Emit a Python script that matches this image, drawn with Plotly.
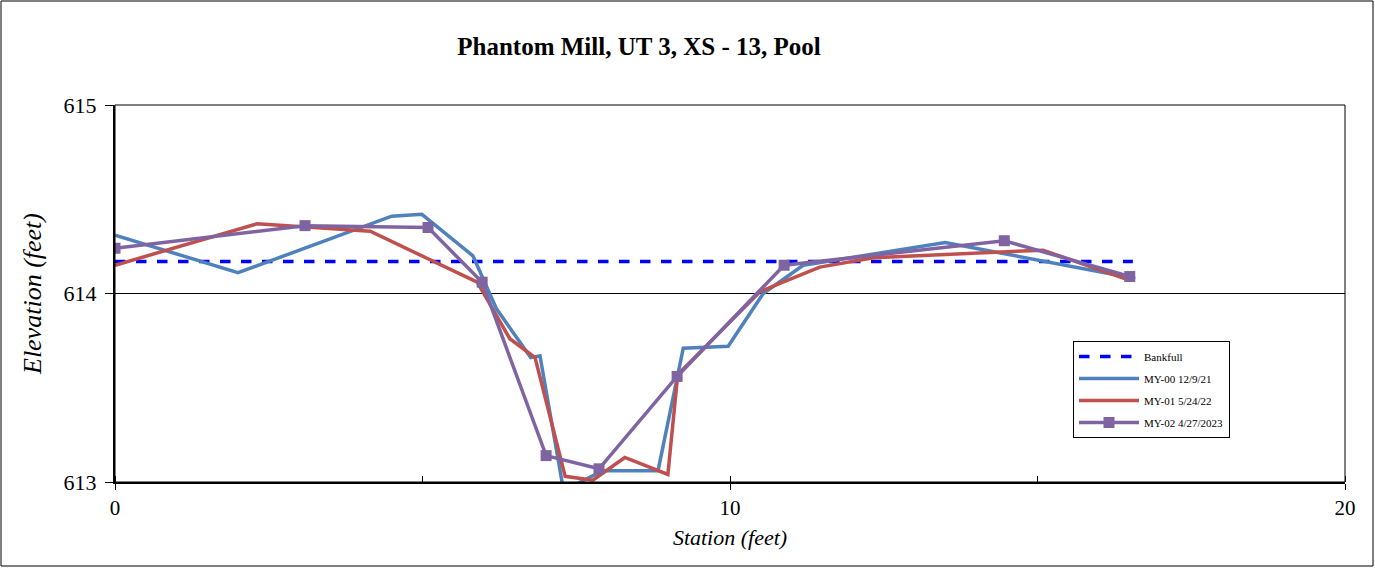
import plotly.graph_objects as go

# ---- data ----
bankfull_x = [0.0, 16.55]
bankfull_y = [614.17, 614.17]

my00_x = [0.0, 2.0, 4.50, 4.99, 5.82, 6.2, 6.76, 6.91, 7.28, 7.51, 7.93, 8.83, 9.24, 9.97, 10.54, 11.19, 13.50, 16.59]
my00_y = [614.31, 614.11, 614.41, 614.42, 614.20, 613.92, 613.66, 613.67, 612.98, 612.99, 613.06, 613.06, 613.71, 613.72, 614.00, 614.15, 614.27, 614.08]

my01_x = [0.0, 2.31, 4.15, 5.89, 6.42, 6.83, 7.32, 7.77, 8.29, 8.99, 9.15, 10.49, 10.86, 11.46, 12.33, 15.09, 16.5]
my01_y = [614.15, 614.37, 614.33, 614.06, 613.76, 613.66, 613.03, 613.01, 613.13, 613.04, 613.57, 614.01, 614.06, 614.14, 614.19, 614.23, 614.07]

my02_x = [0.0, 3.09, 5.09, 5.97, 7.01, 7.87, 9.14, 10.88, 14.46, 16.5]
my02_y = [614.24, 614.36, 614.35, 614.06, 613.14, 613.07, 613.56, 614.15, 614.28, 614.09]

title_text = "Phantom Mill, UT 3, XS - 13, Pool"
x_title = "Station (feet)"
y_title = "Elevation (feet)"
x_ticks = [0, 10, 20]
y_ticks = [613, 614, 615]

FONT = "Liberation Serif"

fig = go.Figure()
fig.add_trace(go.Scatter(x=bankfull_x, y=bankfull_y, mode="lines", name="Bankfull",
                         legendgroup="a",
                         line=dict(color="#0000FF", width=3.5, dash="dash")))
fig.add_trace(go.Scatter(x=my00_x, y=my00_y, mode="lines", name="MY-00 12/9/21",
                         legendgroup="b",
                         line=dict(color="#4F81BD", width=3.5)))
fig.add_trace(go.Scatter(x=my01_x, y=my01_y, mode="lines", name="MY-01 5/24/22",
                         legendgroup="c",
                         line=dict(color="#C0504D", width=3.5)))
fig.add_trace(go.Scatter(x=my02_x, y=my02_y, mode="lines+markers", name="MY-02 4/27/2023",
                         legendgroup="d",
                         line=dict(color="#8064A2", width=3.5),
                         marker=dict(symbol="square", size=11, color="#8064A2")))

W, H = 1375, 568
L, R, T, B = 115, 30, 105, 86
pw, ph = W - L - R, H - T - B

fig.update_layout(
    width=W, height=H,
    margin=dict(l=L, r=R, t=T, b=B),
    paper_bgcolor="white", plot_bgcolor="white",
    font=dict(family=FONT, color="black"),
    title=dict(text="<b>" + title_text + "</b>", x=639 / W, xanchor="center",
               y=1 - 46 / H, yanchor="middle", font=dict(size=25, family=FONT)),
    showlegend=True,
    legend=dict(x=(1073 - L) / pw, y=(482 - 341) / ph, xanchor="left", yanchor="top",
                bgcolor="white", bordercolor="black", borderwidth=1,
                font=dict(size=11, family=FONT), tracegroupgap=3,
                itemwidth=60),
    xaxis=dict(range=[0, 20], tickvals=x_ticks, ticks="outside", ticklen=6, tickwidth=1,
               tickcolor="black", showline=True, linecolor="black", linewidth=2,
               showgrid=False, zeroline=False, tickfont=dict(size=21, family=FONT),
               minor=dict(dtick=5, ticks="inside", ticklen=6, tickcolor="black", showgrid=False),
               title=dict(text="<i>" + x_title + "</i>", font=dict(size=22, family=FONT), standoff=10)),
    yaxis=dict(range=[613, 615], tickvals=y_ticks, ticks="outside", ticklen=8, tickwidth=1,
               tickcolor="black", showline=True, linecolor="black", linewidth=2,
               showgrid=True, gridcolor="black", gridwidth=1, zeroline=False,
               tickfont=dict(size=22, family=FONT), ticklabelstandoff=4,
               title=dict(text="<i>" + y_title + "</i>", font=dict(size=26, family=FONT), standoff=14)),
    shapes=[
        dict(type="rect", xref="paper", yref="paper", x0=0, x1=1, y0=0, y1=1,
             line=dict(color="black", width=1), layer="above"),
        dict(type="rect", xref="paper", yref="paper",
             x0=(1 - L) / pw, x1=(W - 2 - L) / pw,
             y0=(482 - (H - 2)) / ph, y1=(482 - 1) / ph,
             line=dict(color="black", width=1), layer="below"),
    ],
)

fig.write_html("out.html", config={"displayModeBar": False},
               post_script="document.body.style.margin='0';document.body.style.padding='0';")
